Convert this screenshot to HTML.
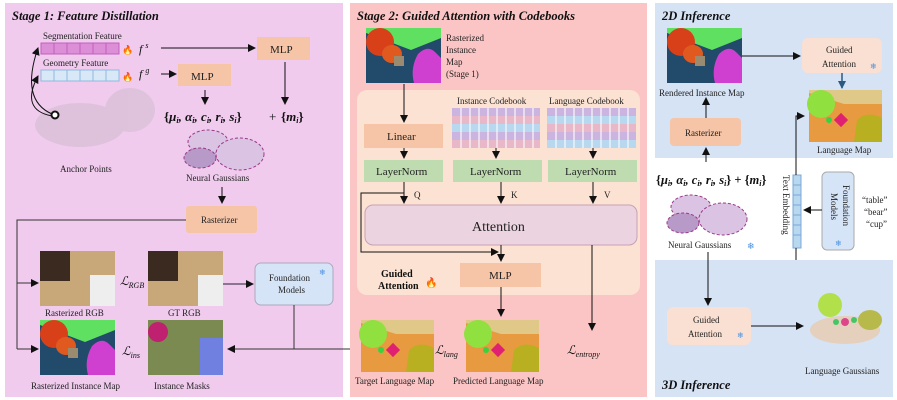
<!DOCTYPE html>
<html><head><meta charset="utf-8"><style>
html,body{margin:0;padding:0;background:#fff;}
svg{display:block;font-family:"Liberation Serif",serif;}
.t{font-size:9px;fill:#222}
.b{font-size:11px;fill:#222}
.m{font-size:12px;font-style:italic;fill:#111}
.ti{font-size:12.5px;font-weight:bold;font-style:italic;fill:#111}
</style></head><body>
<svg width="897" height="400" viewBox="0 0 897 400" xmlns="http://www.w3.org/2000/svg">
<defs>
<marker id="a" markerWidth="8" markerHeight="8" refX="7" refY="4" orient="auto" markerUnits="userSpaceOnUse"><path d="M0,0 L8,4 L0,8 z" fill="#111"/></marker>
<marker id="ab" markerWidth="8" markerHeight="8" refX="7" refY="4" orient="auto" markerUnits="userSpaceOnUse"><path d="M0,0 L8,4 L0,8 z" fill="#2a5a80"/></marker>
<g id="inst">
<rect width="75" height="55" fill="#224a6a"/>
<path d="M0,0 H75 V10 L45,22 L0,5 z" fill="#5fe060"/>
<ellipse cx="14" cy="14" rx="14" ry="14" fill="#d8401a"/>
<ellipse cx="26" cy="26" rx="10" ry="9" fill="#e05a20"/>
<path d="M52,26 Q62,16 70,25 L75,30 V55 H48 Q44,40 52,26z" fill="#d040d0"/>
<rect x="28" y="28" width="10" height="10" fill="#9a8a70"/>
</g>
<g id="lang">
<rect width="73" height="52" fill="#e89a40"/>
<path d="M0,0 H73 V14 L35,14 L0,3z" fill="#e0c888"/>
<ellipse cx="12" cy="14" rx="14" ry="14" fill="#90e040"/>
<path d="M48,30 Q58,20 73,28 V52 H45z" fill="#b8b020"/>
<rect x="27" y="25" width="10" height="10" fill="#e02070" transform="rotate(45 32 30)"/>
<circle cx="20" cy="30" r="3" fill="#3ad040"/>
</g>
<g id="gau">
<ellipse cx="22" cy="14" rx="20" ry="12" fill="#dbc3e3" stroke="#9a3a8a" stroke-dasharray="3,2"/>
<ellipse cx="14" cy="30" rx="16" ry="10" fill="#b89ac8" stroke="#9a3a8a" stroke-dasharray="3,2"/>
<ellipse cx="54" cy="26" rx="24" ry="16" fill="#dbc3e3" stroke="#9a3a8a" stroke-dasharray="3,2"/>
</g>
</defs>

<!-- Stage 1 -->
<rect x="5" y="3" width="338" height="394" fill="#f0cbee"/>
<text x="12" y="20" class="ti">Stage 1: Feature Distillation</text>
<text x="43" y="39" class="t">Segmentation Feature</text>
<rect x="41" y="43" width="78" height="11" fill="#dc8ed6" stroke="#c060c0"/>
<g stroke="#c060c0"><line x1="54" y1="43" x2="54" y2="54"/><line x1="67" y1="43" x2="67" y2="54"/><line x1="80" y1="43" x2="80" y2="54"/><line x1="93" y1="43" x2="93" y2="54"/><line x1="106" y1="43" x2="106" y2="54"/></g>
<text x="43" y="66" class="t">Geometry Feature</text>
<rect x="41" y="70" width="78" height="11" fill="#d8e8f6" stroke="#90b8e0"/>
<g stroke="#90b8e0"><line x1="54" y1="70" x2="54" y2="81"/><line x1="67" y1="70" x2="67" y2="81"/><line x1="80" y1="70" x2="80" y2="81"/><line x1="93" y1="70" x2="93" y2="81"/><line x1="106" y1="70" x2="106" y2="81"/></g>
<text x="122" y="53" font-size="9" fill="#e06010">🔥</text><text x="122" y="80" font-size="9" fill="#e06010">🔥</text>
<text x="139" y="53" class="m">f <tspan font-size="8" dy="-5">s</tspan></text>
<text x="139" y="78" class="m">f <tspan font-size="8" dy="-5">g</tspan></text>
<line x1="161" y1="48" x2="255" y2="48" stroke="#111" marker-end="url(#a)"/>
<line x1="161" y1="74" x2="176" y2="74" stroke="#111" marker-end="url(#a)"/>
<rect x="257" y="37" width="53" height="23" fill="#f6c4a6"/><text x="270" y="53" class="b">MLP</text>
<rect x="178" y="64" width="53" height="22" fill="#f6c4a6"/><text x="191" y="80" class="b">MLP</text>
<line x1="205" y1="90" x2="205" y2="104" stroke="#111" marker-end="url(#a)"/>
<line x1="285" y1="62" x2="285" y2="104" stroke="#111" marker-end="url(#a)"/>
<text x="164" y="121" font-size="13" font-weight="bold" fill="#111">{<tspan font-style="italic">μ<tspan font-size="8" dy="2">i</tspan><tspan dy="-2">, α</tspan><tspan font-size="8" dy="2">i</tspan><tspan dy="-2">, c</tspan><tspan font-size="8" dy="2">i</tspan><tspan dy="-2">, r</tspan><tspan font-size="8" dy="2">i</tspan><tspan dy="-2">, s</tspan><tspan font-size="8" dy="2">i</tspan></tspan><tspan dy="-2">}</tspan></text>
<text x="269" y="121" font-size="13" fill="#111">+</text>
<text x="281" y="121" font-size="13" font-weight="bold" fill="#111">{<tspan font-style="italic">m<tspan font-size="8" dy="2">i</tspan></tspan><tspan dy="-2">}</tspan></text>
<g opacity="0.25"><ellipse cx="80" cy="125" rx="45" ry="22" fill="#aaa"/><ellipse cx="130" cy="110" rx="25" ry="22" fill="#aaa"/></g>
<circle cx="55" cy="115" r="3.5" fill="#fff" stroke="#111" stroke-width="2"/>
<path d="M52,114 Q20,100 38,48" fill="none" stroke="#111" marker-end="url(#a)"/>
<path d="M52,116 Q20,110 38,76" fill="none" stroke="#111" marker-end="url(#a)"/>
<text x="60" y="172" class="t" font-size="10">Anchor Points</text>
<use href="#gau" x="186" y="128"/>
<text x="186" y="181" class="t" font-size="10">Neural Gaussians</text>
<line x1="222" y1="187" x2="222" y2="203" stroke="#111" marker-end="url(#a)"/>
<rect x="186" y="206" width="71" height="27" rx="3" fill="#f6c4a6"/><text x="201" y="223" class="t" font-size="10">Rasterizer</text>
<polyline points="186,220 17,220 17,349" fill="none" stroke="#333"/>
<line x1="17" y1="283" x2="38" y2="283" stroke="#333" marker-end="url(#a)"/>
<line x1="17" y1="349" x2="38" y2="349" stroke="#333" marker-end="url(#a)"/>
<rect x="40" y="251" width="75" height="55" fill="#c8a878"/><rect x="40" y="251" width="30" height="30" fill="#3a2a20"/><rect x="90" y="275" width="25" height="31" fill="#eee"/>
<rect x="148" y="251" width="75" height="55" fill="#c8a878"/><rect x="148" y="251" width="30" height="30" fill="#3a2a20"/><rect x="198" y="275" width="25" height="31" fill="#eee"/>
<text x="120" y="285" class="m">ℒ<tspan font-size="8" dy="3">RGB</tspan></text>
<text x="45" y="316" class="t" font-size="10">Rasterized RGB</text>
<text x="168" y="316" class="t" font-size="10">GT RGB</text>
<line x1="223" y1="284" x2="253" y2="284" stroke="#223" marker-end="url(#a)"/>
<rect x="255" y="263" width="78" height="42" rx="6" fill="#d6e4f8" stroke="#aab"/>
<text x="269" y="281" class="t" font-size="10">Foundation</text><text x="278" y="293" class="t" font-size="10">Models</text>
<text x="319" y="275" font-size="8" fill="#4a90e0">❄</text>
<use href="#inst" x="40" y="320"/>
<rect x="148" y="320" width="75" height="55" fill="#7a8a50"/><circle cx="158" cy="332" r="10" fill="#c02070"/><rect x="200" y="338" width="23" height="37" fill="#7080e0"/>
<text x="122" y="355" class="m">ℒ<tspan font-size="8" dy="3">ins</tspan></text>
<text x="31" y="389" class="t" font-size="10">Rasterized Instance Map</text>
<text x="154" y="389" class="t" font-size="10">Instance Masks</text>
<polyline points="294,305 294,349 358,349" fill="none" stroke="#333"/>
<line x1="294" y1="349" x2="228" y2="349" stroke="#333" marker-end="url(#a)"/>

<!-- Stage 2 -->
<rect x="350" y="3" width="297" height="394" fill="#fcc5c5"/>
<text x="357" y="20" class="ti">Stage 2: Guided Attention with Codebooks</text>
<use href="#inst" x="366" y="28"/>
<text x="446" y="41" class="t" font-size="10">Rasterized</text><text x="446" y="53" class="t" font-size="10">Instance</text><text x="446" y="65" class="t" font-size="10">Map</text><text x="446" y="77" class="t" font-size="10">(Stage 1)</text>
<rect x="357" y="90" width="283" height="205" rx="10" fill="#fce2d2"/>
<line x1="404" y1="84" x2="404" y2="122" stroke="#111" marker-end="url(#a)"/>
<text x="457" y="104" class="t">Instance Codebook</text>
<text x="549" y="104" class="t">Language Codebook</text>
<g>
<rect x="452" y="108" width="88" height="8" fill="#ccb4e0"/><rect x="452" y="116" width="88" height="8" fill="#e8b8c8"/><rect x="452" y="124" width="88" height="8" fill="#b8d8f0"/><rect x="452" y="132" width="88" height="8" fill="#ccb4e0"/><rect x="452" y="140" width="88" height="8" fill="#e8b8c8"/>
<rect x="547" y="108" width="89" height="8" fill="#ccb4e0"/><rect x="547" y="116" width="89" height="8" fill="#b8d8f0"/><rect x="547" y="124" width="89" height="8" fill="#e8b8c8"/><rect x="547" y="132" width="89" height="8" fill="#ccb4e0"/><rect x="547" y="140" width="89" height="8" fill="#b8d8f0"/>
</g>
<g stroke="#fff" stroke-opacity="0.7" stroke-width="1.5">
<path d="M461,108V148M470,108V148M479,108V148M488,108V148M497,108V148M506,108V148M515,108V148M524,108V148M533,108V148"/>
<path d="M556,108V148M565,108V148M574,108V148M583,108V148M592,108V148M601,108V148M610,108V148M619,108V148M628,108V148"/>
</g>
<rect x="364" y="124" width="79" height="24" fill="#f6c4a6"/><text x="387" y="140" class="b">Linear</text>
<line x1="404" y1="148" x2="404" y2="158" stroke="#111" marker-end="url(#a)"/>
<line x1="496" y1="148" x2="496" y2="158" stroke="#111" marker-end="url(#a)"/>
<line x1="593" y1="148" x2="593" y2="158" stroke="#111" marker-end="url(#a)"/>
<rect x="364" y="160" width="79" height="22" fill="#bedcb0"/><text x="376" y="175" class="b">LayerNorm</text>
<rect x="453" y="160" width="89" height="22" fill="#bedcb0"/><text x="470" y="175" class="b">LayerNorm</text>
<rect x="548" y="160" width="89" height="22" fill="#bedcb0"/><text x="565" y="175" class="b">LayerNorm</text>
<line x1="404" y1="182" x2="404" y2="203" stroke="#111" marker-end="url(#a)"/>
<line x1="501" y1="182" x2="501" y2="203" stroke="#111" marker-end="url(#a)"/>
<line x1="593" y1="182" x2="593" y2="203" stroke="#111" marker-end="url(#a)"/>
<text x="414" y="198" class="t">Q</text><text x="511" y="198" class="t">K</text><text x="604" y="198" class="t">V</text>
<polyline points="404,193 361,193 361,252 498,252" fill="none" stroke="#111" marker-end="url(#a)"/>
<rect x="365" y="205" width="272" height="40" rx="8" fill="#ebd3e0" stroke="#c8a0b8"/>
<text x="472" y="231" font-size="14" fill="#222">Attention</text>
<line x1="501" y1="245" x2="501" y2="261" stroke="#111" marker-end="url(#a)"/>
<line x1="592" y1="245" x2="592" y2="330" stroke="#111" marker-end="url(#a)"/>
<text x="381" y="277" font-size="10" font-weight="bold" fill="#111">Guided</text><text x="378" y="289" font-size="10" font-weight="bold" fill="#111">Attention</text>
<text x="425" y="286" font-size="10" fill="#e06010">🔥</text>
<rect x="460" y="263" width="81" height="24" fill="#f6c4a6"/><text x="489" y="279" class="b">MLP</text>
<line x1="501" y1="287" x2="501" y2="316" stroke="#111" marker-end="url(#a)"/>
<use href="#lang" x="361" y="320"/><use href="#lang" x="466" y="320"/>
<text x="435" y="354" class="m">ℒ<tspan font-size="8" dy="3">lang</tspan></text>
<text x="567" y="354" class="m">ℒ<tspan font-size="8" dy="3">entropy</tspan></text>
<text x="355" y="384" class="t">Target Language Map</text>
<text x="453" y="384" class="t">Predicted Language Map</text>

<!-- 2D Inference -->
<rect x="655" y="3" width="238" height="155" fill="#d6e3f5"/>
<text x="662" y="20" class="ti">2D Inference</text>
<use href="#inst" x="667" y="28"/>
<text x="659" y="96" class="t" font-size="10">Rendered Instance Map</text>
<line x1="742" y1="56" x2="800" y2="56" stroke="#111" marker-end="url(#a)"/>
<rect x="802" y="38" width="80" height="35" rx="6" fill="#fae0d2"/>
<text x="826" y="53" class="t" font-size="10">Guided</text><text x="822" y="67" class="t" font-size="10">Attention</text>
<text x="870" y="69" font-size="8" fill="#4a90e0">❄</text>
<line x1="842" y1="73" x2="842" y2="88" stroke="#2a5a80" stroke-width="1.5" marker-end="url(#ab)"/>
<use href="#lang" x="809" y="90"/>
<text x="817" y="153" class="t" font-size="10">Language Map</text>
<rect x="670" y="118" width="71" height="28" rx="4" fill="#f6c4a6"/><text x="685" y="136" class="t" font-size="10">Rasterizer</text>
<line x1="706" y1="118" x2="706" y2="98" stroke="#111" marker-end="url(#a)"/>
<line x1="706" y1="162" x2="706" y2="148" stroke="#111" marker-end="url(#a)"/>
<text x="656" y="184" font-size="12.5" font-weight="bold" fill="#111">{<tspan font-style="italic">μ<tspan font-size="8" dy="2">i</tspan><tspan dy="-2">, α</tspan><tspan font-size="8" dy="2">i</tspan><tspan dy="-2">, c</tspan><tspan font-size="8" dy="2">i</tspan><tspan dy="-2">, r</tspan><tspan font-size="8" dy="2">i</tspan><tspan dy="-2">, s</tspan><tspan font-size="8" dy="2">i</tspan></tspan><tspan dy="-2">} + {</tspan><tspan font-style="italic">m<tspan font-size="8" dy="2">i</tspan></tspan><tspan dy="-2">}</tspan></text>
<use href="#gau" x="669" y="193"/>
<text x="668" y="248" class="t" font-size="10">Neural Gaussians</text>
<text x="747" y="249" font-size="9" fill="#4a90e0">❄</text>
<rect x="793" y="175" width="8" height="73" fill="#b8d8f0" stroke="#7aa8d8"/>
<g stroke="#7aa8d8"><path d="M793,185H801M793,195H801M793,205H801M793,215H801M793,225H801M793,235H801"/></g>
<text transform="translate(783 175) rotate(90)" class="t" font-size="10">Text Embedding</text>
<polyline points="796,175 796,116 804,116" fill="none" stroke="#111" marker-end="url(#a)"/>
<polyline points="796,248 796,270 845,270 845,287" fill="none" stroke="#111" marker-end="url(#a)"/>
<rect x="822" y="172" width="32" height="78" rx="5" fill="#d6e4f8" stroke="#aaa"/>
<text transform="translate(843 185) rotate(90)" class="t" font-size="10">Foundation</text>
<text transform="translate(831 193) rotate(90)" class="t" font-size="10">Models</text>
<text x="835" y="246" font-size="8" fill="#4a90e0">❄</text>
<line x1="822" y1="210" x2="804" y2="210" stroke="#111" marker-end="url(#a)"/>
<text x="862" y="203" class="t">“table”</text><text x="864" y="215" class="t">“bear”</text><text x="866" y="227" class="t">“cup”</text>

<!-- 3D Inference -->
<rect x="655" y="260" width="238" height="137" fill="#d6e3f5"/>
<line x1="708" y1="252" x2="708" y2="305" stroke="#111" marker-end="url(#a)"/>
<rect x="667" y="307" width="84" height="38" rx="6" fill="#fae0d2"/>
<text x="693" y="323" class="t" font-size="10">Guided</text><text x="688" y="337" class="t" font-size="10">Attention</text>
<text x="737" y="338" font-size="8" fill="#4a90e0">❄</text>
<line x1="751" y1="326" x2="803" y2="326" stroke="#111" marker-end="url(#a)"/>
<g opacity="0.8">
<ellipse cx="830" cy="305" rx="12" ry="12" fill="#a8e020"/>
<ellipse cx="845" cy="330" rx="35" ry="14" fill="#f0c090" opacity="0.7"/>
<ellipse cx="870" cy="320" rx="12" ry="10" fill="#b0b020"/>
<circle cx="845" cy="322" r="4" fill="#e02070"/><circle cx="836" cy="322" r="3" fill="#20c040"/><circle cx="854" cy="320" r="3" fill="#20c040"/>
</g>
<text x="805" y="374" class="t" font-size="10">Language Gaussians</text>
<text x="662" y="389" class="ti">3D Inference</text>
</svg>
</body></html>
